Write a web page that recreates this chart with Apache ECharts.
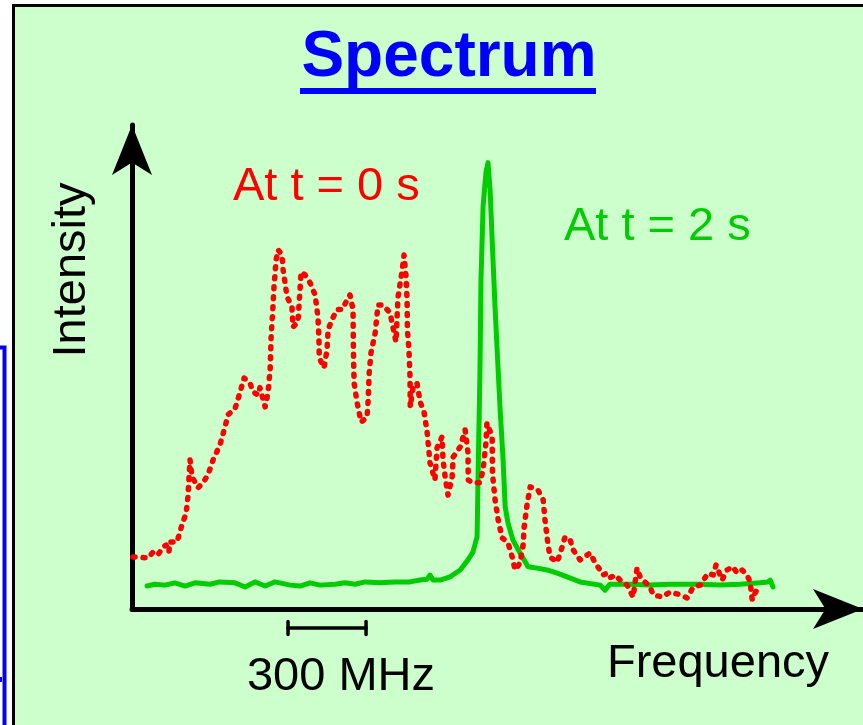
<!DOCTYPE html>
<html>
<head>
<meta charset="utf-8">
<script src="https://cdn.jsdelivr.net/npm/echarts@6/dist/echarts.min.js"></script>
<style>
html,body{margin:0;padding:0;background:#fff;}
#chart{width:863px;height:725px;}
</style>
</head>
<body>
<div id="chart"></div>
<script>
// Frequency in MHz (offset from axis origin), intensity in arbitrary units
const titleText = 'Spectrum';
const xAxisName = 'Frequency';
const yAxisName = 'Intensity';
const redLabel = 'At t = 0 s';
const greenLabel = 'At t = 2 s';
const scaleBarLabel = '300 MHz';
const scaleBarRange = [600, 900];
const freqMax = 2811;
const intensityMax = 105.4;

const spectrumT0 = [
 [4,11.3],[31,11.3],[62,11.1],[81,12.4],[100,11.8],[119,13.5],[131,13.9],[142,12.4],[146,14.6],[173,14.6],
 [192,18.3],[208,20.9],[215,24.4],[223,32.5],[231,28.8],[254,26.4],[273,27.5],[292,29.2],[312,32.5],[338,35.7],
 [358,39.7],[369,42.3],[396,43.6],[415,47.1],[431,50.3],[454,49.2],[465,47.3],[485,46.6],[492,48.2],[512,44.0],
 [523,47.1],[531,52.1],[535,59.3],[542,65.8],[546,70.2],[554,76.0],[562,78.2],[577,77.1],[581,73.9],[596,68.0],
 [615,65.8],[619,61.4],[638,62.5],[646,69.5],[650,73.4],[665,72.8],[685,71.0],[704,68.4],[715,63.6],[719,58.6],
 [720,54.7],[738,52.5],[750,56.4],[754,60.8],[769,63.0],[788,65.2],[808,65.2],[827,67.3],[838,68.4],[850,65.2],
 [851,58.6],[852,54.7],[854,49.2],[865,45.1],[881,40.7],[904,41.8],[908,45.5],[912,51.4],[919,55.8],[935,60.1],
 [946,66.2],[965,66.2],[992,64.5],[1004,61.2],[1015,58.2],[1023,68.0],[1038,73.4],[1046,77.1],[1054,72.3],[1058,66.7],
 [1059,60.8],[1065,56.4],[1069,50.6],[1070,44.0],[1081,48.4],[1096,49.2],[1108,45.1],[1123,42.9],[1135,38.4],[1146,31.8],
 [1165,28.1],[1173,35.1],[1192,37.5],[1196,32.5],[1204,28.8],[1215,24.8],[1231,28.8],[1235,33.1],[1262,35.3],[1281,39.0],
 [1292,34.0],[1293,28.1],[1308,27.5],[1338,27.5],[1350,30.3],[1361,36.2],[1365,40.5],[1385,37.5],[1386,29.6],[1396,23.8],
 [1408,19.4],[1423,15.5],[1446,14.4],[1462,11.3],[1473,8.5],[1492,10.0],[1504,13.9],[1508,17.9],[1519,22.7],[1531,26.6],
 [1561,25.9],[1581,23.8],[1588,19.4],[1600,13.9],[1608,11.3],[1635,10.2],[1654,13.5],[1665,15.7],[1685,15.0],[1696,12.9],
 [1723,10.7],[1762,12.2],[1781,10.0],[1800,8.5],[1811,7.4],[1827,7.8],[1838,6.8],[1858,7.4],[1877,6.3],[1904,5.2],
 [1927,2.6],[1942,8.9],[1954,7.0],[1965,6.3],[1992,4.8],[2004,3.1],[2038,2.6],[2069,3.7],[2108,3.1],[2135,2.4],
 [2158,4.8],[2185,5.2],[2215,7.8],[2235,7.4],[2246,9.6],[2269,6.3],[2288,8.5],[2311,9.2],[2327,7.8],[2346,8.5],
 [2365,7.4],[2377,5.9],[2381,3.7],[2385,2.0],[2396,3.5],[2415,5.2]
];

const spectrumT2 = [
 [58,5.0],[88,5.4],[127,5.2],[165,5.7],[204,5.0],[242,5.7],[300,5.4],[338,5.9],[396,5.7],[435,4.8],
 [473,5.9],[512,5.0],[550,5.9],[608,5.2],[646,5.0],[685,5.7],[723,5.2],[781,5.4],[819,5.7],[858,5.4],
 [896,5.9],[954,5.7],[1011,5.9],[1069,5.9],[1108,6.3],[1135,6.5],[1146,7.4],[1158,6.3],[1185,6.3],[1223,7.0],
 [1262,8.5],[1292,10.7],[1311,12.4],[1327,15.7],[1331,29.6],[1338,51.4],[1342,71.7],[1350,87.6],[1361,95.0],[1369,97.2],
 [1377,91.3],[1385,80.4],[1396,65.8],[1415,44.0],[1427,32.5],[1435,22.2],[1446,18.7],[1465,15.0],[1492,12.2],[1523,9.2],
 [1558,8.9],[1596,8.5],[1635,7.8],[1673,7.0],[1723,5.9],[1800,5.2],[1819,4.1],[1838,5.4],[1915,5.4],[1992,5.2],
 [2069,5.4],[2185,5.4],[2261,5.2],[2338,5.4],[2415,5.7],[2446,5.9],[2454,6.3],[2465,4.8]
];

const FONT = '"Liberation Sans", Arial, sans-serif';
const chart = echarts.init(document.getElementById('chart'), null, {renderer: 'canvas'});

const axisLineCommon = {
  show: true,
  symbol: ['none', 'arrow'],
  symbolSize: [30, 50],
  lineStyle: {color: '#000', width: 5, cap: 'round'}
};

const option = {
  animation: false,
  backgroundColor: '#ffffff',
  grid: {left: 132, right: 0, top: 125, bottom: 116, containLabel: false},
  xAxis: {
    type: 'value', min: 0, max: freqMax,
    axisLine: axisLineCommon,
    axisTick: {show: false}, axisLabel: {show: false}, splitLine: {show: false}
  },
  yAxis: {
    type: 'value', min: 0, max: intensityMax,
    axisLine: axisLineCommon,
    axisTick: {show: false}, axisLabel: {show: false}, splitLine: {show: false}
  },
  graphic: [
    {type: 'rect', z: -100, shape: {x: 13.5, y: 5.5, width: 900, height: 800},
     style: {fill: '#ccffcc', stroke: '#000', lineWidth: 3}},
    {type: 'rect', z: -100, shape: {x: -20, y: 347.5, width: 24.5, height: 500},
     style: {fill: 'none', stroke: '#0000ff', lineWidth: 4}},
    {type: 'rect', z: -100, shape: {x: 0, y: 677, width: 2, height: 5},
     style: {fill: '#0000ff'}},
    {type: 'text', x: 449, y: 58, z: 10,
     style: {text: titleText, fill: '#0000ff', font: 'bold 64px ' + FONT, align: 'center', verticalAlign: 'middle'}},
    {type: 'rect', z: 10, shape: {x: 300, y: 88, width: 296, height: 6}, style: {fill: '#0000ff'}},
    {type: 'text', x: 233, y: 187, z: 10,
     style: {text: redLabel, fill: '#ff0000', font: '47px ' + FONT, align: 'left', verticalAlign: 'middle'}},
    {type: 'text', x: 564, y: 227, z: 10,
     style: {text: greenLabel, fill: '#00cc00', font: '47px ' + FONT, align: 'left', verticalAlign: 'middle'}},
    {type: 'text', x: 72.5, y: 270, rotation: Math.PI / 2, z: 10,
     style: {text: yAxisName, fill: '#000', font: '47px ' + FONT, align: 'center', verticalAlign: 'middle'}},
    {type: 'text', x: 718, y: 664, z: 10,
     style: {text: xAxisName, fill: '#000', font: '47px ' + FONT, align: 'center', verticalAlign: 'middle'}},
    {type: 'text', x: 341, y: 677, z: 10,
     style: {text: scaleBarLabel, fill: '#000', font: '47px ' + FONT, align: 'center', verticalAlign: 'middle'}}
  ],
  series: [
    {
      name: greenLabel, type: 'line', data: spectrumT2, showSymbol: false, symbol: 'none',
      lineStyle: {color: '#00cc00', width: 5, join: 'round', cap: 'round'}, z: 3
    },
    {
      name: redLabel, type: 'line', data: spectrumT0, showSymbol: false, symbol: 'none',
      lineStyle: {color: '#ff0000', width: 5.5, type: [2, 8], cap: 'round', join: 'round'}, z: 4
    },
    {
      name: 'scale', type: 'custom', clip: false, silent: true,
      data: [scaleBarRange],
      renderItem: function (params, api) {
        const p1 = api.coord([api.value(0), 0]);
        const p2 = api.coord([api.value(1), 0]);
        const y = p1[1] + 19;
        const st = {stroke: '#000', lineWidth: 3.5, lineCap: 'round'};
        return {type: 'group', children: [
          {type: 'line', shape: {x1: p1[0], y1: y, x2: p2[0], y2: y}, style: st},
          {type: 'line', shape: {x1: p1[0], y1: y - 6.5, x2: p1[0], y2: y + 6.5}, style: st},
          {type: 'line', shape: {x1: p2[0], y1: y - 6.5, x2: p2[0], y2: y + 6.5}, style: st}
        ]};
      }
    }
  ]
};
chart.setOption(option);
</script>
</body>
</html>
